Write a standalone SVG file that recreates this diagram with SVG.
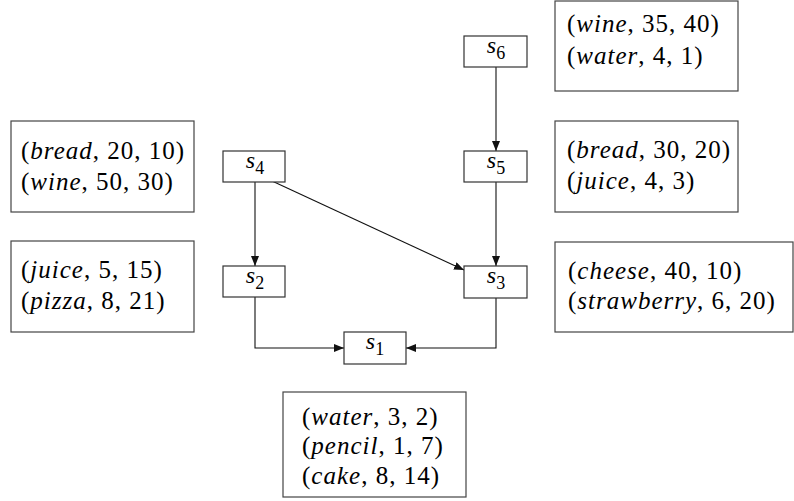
<svg xmlns="http://www.w3.org/2000/svg" width="794" height="501" viewBox="0 0 794 501">
  <style>
    .box { fill: #fff; stroke: #444; stroke-width: 1.2; }
    .node { fill: #fff; stroke: #333; stroke-width: 1.2; }
    .edge { fill: none; stroke: #111; stroke-width: 1.1; }
    text { font-family: "Liberation Serif", "DejaVu Serif", serif; font-size: 25px; letter-spacing: 1px; fill: #000; }
    .it { font-style: italic; }
    .lbl { font-size: 24px; letter-spacing: 0; text-anchor: middle; }
    .sub { font-size: 18px; font-style: normal; }
  </style>
  <defs>
    <marker id="arr" viewBox="0 0 10 8" refX="10" refY="4" markerWidth="10" markerHeight="8" markerUnits="userSpaceOnUse" orient="auto">
      <path d="M0,0 L10,4 L0,8 z" fill="#111"/>
    </marker>
  </defs>

  <!-- connectors -->
  <g id="edges">
    <line class="edge" x1="255" y1="182" x2="255" y2="266" marker-end="url(#arr)"/>
    <line class="edge" x1="496" y1="67" x2="496" y2="151" marker-end="url(#arr)"/>
    <line class="edge" x1="496" y1="182" x2="496" y2="266" marker-end="url(#arr)"/>
    <line class="edge" x1="272" y1="181" x2="464" y2="270" marker-end="url(#arr)"/>
    <polyline class="edge" points="255,297 255,348 344,348" marker-end="url(#arr)"/>
    <polyline class="edge" points="496,298 496,348 406,348" marker-end="url(#arr)"/>
  </g>

  <!-- graph nodes -->
  <g id="s6">
    <rect class="node" x="464" y="36" width="63" height="31"/>
    <text class="lbl" x="496" y="53"><tspan class="it">s</tspan><tspan class="sub" dy="6">6</tspan></text>
  </g>
  <g id="s5">
    <rect class="node" x="464" y="151" width="63" height="31"/>
    <text class="lbl" x="496" y="168"><tspan class="it">s</tspan><tspan class="sub" dy="6">5</tspan></text>
  </g>
  <g id="s4">
    <rect class="node" x="223" y="151" width="62" height="31"/>
    <text class="lbl" x="255" y="168"><tspan class="it">s</tspan><tspan class="sub" dy="6">4</tspan></text>
  </g>
  <g id="s3">
    <rect class="node" x="464" y="266" width="63" height="32"/>
    <text class="lbl" x="496" y="283"><tspan class="it">s</tspan><tspan class="sub" dy="6">3</tspan></text>
  </g>
  <g id="s2">
    <rect class="node" x="223" y="266" width="62" height="31"/>
    <text class="lbl" x="255" y="283"><tspan class="it">s</tspan><tspan class="sub" dy="6">2</tspan></text>
  </g>
  <g id="s1">
    <rect class="node" x="344" y="332" width="62" height="32"/>
    <text class="lbl" x="375" y="349"><tspan class="it">s</tspan><tspan class="sub" dy="6">1</tspan></text>
  </g>

  <!-- item lists -->
  <g id="items-s4">
    <rect class="box" x="11" y="121" width="183" height="91"/>
    <text x="21" y="159">(<tspan class="it">bread</tspan>, 20, 10)</text>
    <text x="21" y="190">(<tspan class="it">wine</tspan>, 50, 30)</text>
  </g>
  <g id="items-s2">
    <rect class="box" x="11" y="241" width="183" height="91"/>
    <text x="21" y="278">(<tspan class="it">juice</tspan>, 5, 15)</text>
    <text x="21" y="309">(<tspan class="it">pizza</tspan>, 8, 21)</text>
  </g>
  <g id="items-s6">
    <rect class="box" x="555" y="1" width="183" height="90"/>
    <text x="567" y="32">(<tspan class="it">wine</tspan>, 35, 40)</text>
    <text x="567" y="64">(<tspan class="it">water</tspan>, 4, 1)</text>
  </g>
  <g id="items-s5">
    <rect class="box" x="555" y="121" width="183" height="91"/>
    <text x="567" y="158">(<tspan class="it">bread</tspan>, 30, 20)</text>
    <text x="567" y="189">(<tspan class="it">juice</tspan>, 4, 3)</text>
  </g>
  <g id="items-s3">
    <rect class="box" x="555" y="242" width="238" height="90"/>
    <text x="568" y="279">(<tspan class="it">cheese</tspan>, 40, 10)</text>
    <text x="568" y="309">(<tspan class="it">strawberry</tspan>, 6, 20)</text>
  </g>
  <g id="items-s1">
    <rect class="box" x="283" y="392" width="183" height="105"/>
    <text x="302" y="425">(<tspan class="it">water</tspan>, 3, 2)</text>
    <text x="302" y="454">(<tspan class="it">pencil</tspan>, 1, 7)</text>
    <text x="302" y="484">(<tspan class="it">cake</tspan>, 8, 14)</text>
  </g>
</svg>
